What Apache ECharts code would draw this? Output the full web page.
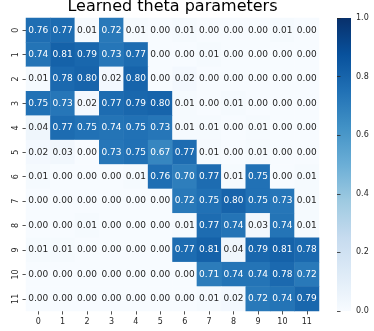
<!DOCTYPE html>
<html><head><meta charset="utf-8">
<script src="https://cdn.jsdelivr.net/npm/echarts@6/dist/echarts.min.js"></script>
<style>html,body{margin:0;padding:0;background:#fff}#c{width:374px;height:331px}</style>
</head><body><div id="c"></div>
<script>
const xCategories = ['0','1','2','3','4','5','6','7','8','9','10','11'];
const yCategories = ['0','1','2','3','4','5','6','7','8','9','10','11'];
const row0  = [0.76,0.77,0.01,0.72,0.01,0.00,0.01,0.00,0.00,0.00,0.01,0.00];
const row1  = [0.74,0.81,0.79,0.73,0.77,0.00,0.00,0.01,0.00,0.00,0.00,0.00];
const row2  = [0.01,0.78,0.80,0.02,0.80,0.00,0.02,0.00,0.00,0.00,0.00,0.00];
const row3  = [0.75,0.73,0.02,0.77,0.79,0.80,0.01,0.00,0.01,0.00,0.00,0.00];
const row4  = [0.04,0.77,0.75,0.74,0.75,0.73,0.01,0.01,0.00,0.01,0.00,0.00];
const row5  = [0.02,0.03,0.00,0.73,0.75,0.67,0.77,0.01,0.00,0.01,0.00,0.00];
const row6  = [0.01,0.00,0.00,0.00,0.01,0.76,0.70,0.77,0.01,0.75,0.00,0.01];
const row7  = [0.00,0.00,0.00,0.00,0.00,0.00,0.72,0.75,0.80,0.75,0.73,0.01];
const row8  = [0.00,0.00,0.01,0.00,0.00,0.00,0.01,0.77,0.74,0.03,0.74,0.01];
const row9  = [0.01,0.01,0.00,0.00,0.00,0.00,0.77,0.81,0.04,0.79,0.81,0.78];
const row10 = [0.00,0.00,0.00,0.00,0.00,0.00,0.00,0.71,0.74,0.74,0.78,0.72];
const row11 = [0.00,0.00,0.00,0.00,0.00,0.00,0.00,0.01,0.02,0.72,0.74,0.79];
const rows = [row0,row1,row2,row3,row4,row5,row6,row7,row8,row9,row10,row11];
const colorbarTicks = [0.0,0.2,0.4,0.6,0.8,1.0];
const blues = ['#f7fbff','#deebf7','#c6dbef','#9ecae1','#6baed6','#4292c6','#2171b5','#08519c','#08306b'];

const data = [];
rows.forEach((r, yi) => r.forEach((v, xi) => {
  data.push({value:[xi, yi, v], label:{color: v > 0.45 ? '#ffffff' : '#262626'}});
}));

const FONT = 'DejaVu Sans';
const chart = echarts.init(document.getElementById('c'), null, {renderer:'canvas'});
chart.setOption({
  animation:false,
  backgroundColor:'#fff',
  textStyle:{fontFamily:FONT},
  title:{text:'Learned theta parameters', left:172.5, top:-1, textAlign:'center', padding:0,
    textStyle:{fontFamily:FONT, fontSize:16, fontWeight:'normal', color:'#000'}},
  grid:[
    {left:26, top:18, width:293, height:293, containLabel:false},
    {left:337, top:18, width:14, height:293, containLabel:false}
  ],
  xAxis:[
    {type:'category', data:xCategories, gridIndex:0, position:'bottom',
     axisLine:{show:false}, splitLine:{show:false}, splitArea:{show:false},
     axisTick:{show:true, alignWithLabel:true, length:3.5, lineStyle:{color:'#262626', width:0.8}},
     axisLabel:{fontFamily:FONT, fontSize:8, color:'#262626', margin:7}},
    {type:'value', gridIndex:1, show:false, min:0, max:1}
  ],
  yAxis:[
    {type:'category', data:yCategories, gridIndex:0, inverse:true,
     axisLine:{show:false}, splitLine:{show:false}, splitArea:{show:false},
     axisTick:{show:true, alignWithLabel:true, length:3.5, lineStyle:{color:'#262626', width:0.8}},
     axisLabel:{fontFamily:FONT, fontSize:8, color:'#262626', rotate:90, margin:6}},
    {type:'value', gridIndex:1, min:0, max:1, interval:0.2, position:'right',
     axisLine:{show:false}, splitLine:{show:false},
     axisTick:{show:true, length:3.5, lineStyle:{color:'#262626', width:0.8}},
     axisLabel:{fontFamily:FONT, fontSize:8, color:'#262626', margin:5,
       formatter:v => colorbarTicks.indexOf(Math.round(v*10)/10) >= 0 ? v.toFixed(1) : ''}}
  ],
  visualMap:{
    type:'continuous', min:0, max:1, seriesIndex:0, show:false, inRange:{color:blues}
  },
  series:[{
    type:'heatmap', xAxisIndex:0, yAxisIndex:0, data:data,
    label:{show:true, fontFamily:FONT, fontSize:9, formatter:p => p.value[2].toFixed(2)},
    itemStyle:{borderWidth:0},
    emphasis:{disabled:true}
  }]
});

// Colorbar: gradient rect placed from the colorbar axis scale
const pTop = chart.convertToPixel({xAxisIndex:1, yAxisIndex:1}, [0, 1]);
const pBot = chart.convertToPixel({xAxisIndex:1, yAxisIndex:1}, [1, 0]);
const stops = blues.map((c, i) => ({offset: 1 - i / (blues.length - 1), color: c}));
chart.setOption({
  graphic:[{
    type:'rect', z:-1, silent:true,
    shape:{x:pTop[0], y:pTop[1], width:pBot[0]-pTop[0], height:pBot[1]-pTop[1]},
    style:{fill:new echarts.graphic.LinearGradient(0, 0, 0, 1, stops.slice().sort((a,b)=>a.offset-b.offset))}
  }]
});
</script></body></html>
